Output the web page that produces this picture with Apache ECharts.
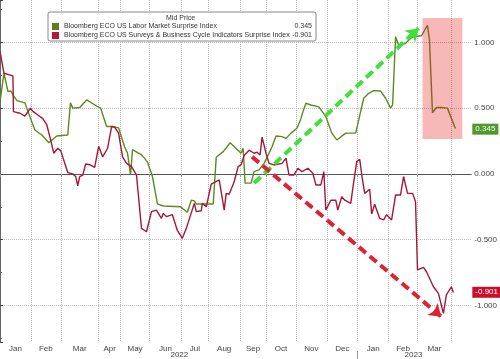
<!DOCTYPE html>
<html>
<head>
<meta charset="utf-8">
<script src="https://cdn.jsdelivr.net/npm/echarts@6/dist/echarts.min.js"></script>
<style>html,body{margin:0;padding:0;background:#fff}#c{width:500px;height:359px}</style>
</head>
<body>
<div id="c"></div>
<script>
// x unit: observation index along Bloomberg's (non-uniform) date axis
const monthStarts = [0, 31, 61, 99, 121, 150, 182, 209, 241, 267, 297, 328, 359, 390, 419, 453];
const monthNames = ['Jan','Feb','Mar','Apr','May','Jun','Jul','Aug','Sep','Oct','Nov','Dec','Jan','Feb','Mar'];
const yearNames = ['2022', '2023'];
const yearCenters = [180, 415];
const yearBreaks = [359];
const xEnd = 473;

const laborName = 'Bloomberg ECO US Labor Market Surprise Index';
const surveyName = 'Bloomberg ECO US Surveys & Business Cycle Indicators Surprise Index';
const laborLast = 0.345;
const surveyLast = -0.901;

const labor = [[0,0.55],[4,0.765],[8,0.625],[11,0.63],[13,0.6],[17,0.557],[25,0.54],[30,0.435],[35,0.334],[42,0.296],[49,0.237],[57,0.288],[68,0.296],[70.7,0.54],[73,0.5],[80,0.505],[87,0.562],[97,0.516],[101,0.5],[107,0.36],[113,0.36],[119,0.35],[125,0.207],[128,0.157],[131,-0.008],[133,0.185],[142,0.144],[145,0.12],[148,0.09],[153,-0.02],[158,-0.228],[164,-0.244],[181,-0.25],[188,-0.292],[192,-0.2],[195,-0.205],[197,-0.229],[214,-0.229],[217,0.126],[224,0.169],[231,0.237],[242,0.157],[244,0.195],[246,-0.07],[252,-0.07],[255,0.017],[260,0.03],[265,0.08],[270,0.157],[273,0.207],[277,0.288],[283,0.283],[287,0.27],[292,0.31],[298,0.347],[302,0.42],[303.5,0.46],[307,0.537],[312,0.524],[320,0.51],[327,0.435],[333,0.31],[338,0.258],[347,0.31],[357,0.31],[360,0.41],[365,0.575],[370,0.613],[375,0.633],[382,0.63],[387,0.575],[392,0.5],[394,0.524],[397,1.043],[400,0.98],[407,0.993],[412,1.03],[415,1.043],[423,1.05],[429,1.13],[431,1.02],[434,0.465],[438,0.505],[443,0.505],[449,0.5],[457,0.345]];

const surveys = [[0,0.93],[4,0.765],[13,0.745],[13.5,0.473],[20,0.461],[25,0.44],[27,0.43],[30.5,0.5],[33,0.475],[38,0.448],[43,0.42],[47,0.372],[50,0.283],[54,0.157],[58,0.195],[61,0.175],[63,0.18],[68,0.01],[73,0.0],[76,-0.02],[78,-0.09],[80,-0.02],[83,-0.01],[86,0.075],[90,0.07],[95,0.05],[99,0.21],[103,0.13],[108,0.195],[112,0.36],[115,0.355],[119,0.31],[123,0.13],[127,0.08],[132,0.055],[137,-0.01],[142,-0.414],[147,-0.44],[152,-0.287],[157,-0.275],[162,-0.338],[164,-0.3],[167,-0.325],[173,-0.31],[178,-0.43],[183,-0.49],[187,-0.414],[195,-0.224],[197,-0.287],[202,-0.28],[203,-0.224],[207,-0.25],[212,-0.077],[220,-0.046],[225,-0.275],[227,-0.148],[230,-0.155],[235,-0.06],[239,0.055],[242,0.07],[245,0.14],[250,0.18],[255,0.157],[258,0.165],[261,0.144],[263,0.28],[267,0.157],[270,0.08],[275,0.068],[283,0.08],[287,0.119],[290,-0.008],[295,-0.008],[299,0.043],[303,0.017],[309,0.043],[314,0.005],[317,-0.084],[322,-0.084],[325,0.017],[327,-0.275],[332,-0.2],[337,-0.2],[339,-0.275],[343,-0.173],[346,-0.2],[352,-0.224],[355,-0.06],[358,0.093],[361,0.11],[363.3,-0.02],[366,-0.148],[371,-0.117],[373,-0.305],[376,-0.23],[378,-0.235],[381,-0.338],[385,-0.35],[388,-0.31],[393,-0.35],[397,-0.16],[402,-0.16],[405,-0.02],[409,-0.148],[414,-0.148],[417,-0.21],[419,-0.73],[425,-0.71],[428,-0.744],[435,-0.858],[440,-0.908],[445,-1.06],[448,-0.92],[453,-0.858],[455,-0.901]];

// annotations
const upArrow = [[255,-0.07],[420,1.107]];
const downArrow = [[253,0.13],[443,-1.086]];
const highlightX = [424, 464];
const highlightY = [0.265, 1.186];

const monthMids = monthStarts.slice(0, -1).map((s, i) => (s + monthStarts[i + 1]) / 2);

const FONT = '"Liberation Sans", Arial, sans-serif';
const GREEN = '#5b8a1f', RED = '#a3183a';

const chart = echarts.init(document.getElementById('c'), null, {renderer: 'canvas'});
chart.setOption({
  animation: false,
  textStyle: {fontFamily: FONT},
  grid: {left: 0, right: 27, top: 0, bottom: 17},
  title: {text: 'Mid Price', left: 166, top: 15, padding: 0,
    textStyle: {fontSize: 7, fontWeight: 'normal', color: '#333', fontFamily: FONT}},
  legend: {
    data: [laborName, surveyName], orient: 'vertical', left: 48, top: 12,
    padding: [11, 4, 2, 4], itemWidth: 7, itemHeight: 7, itemGap: 2, icon: 'rect',
    backgroundColor: '#fff', borderColor: '#888', borderWidth: 1, borderRadius: 2,
    formatter: n => '{n|' + n + '}{v|' + (n === laborName ? laborLast.toFixed(3) : surveyLast.toFixed(3)) + '}',
    textStyle: {fontSize: 7, color: '#333', fontFamily: FONT,
      rich: {n: {width: 222, fontSize: 7, fontFamily: FONT, color: '#333'}, v: {width: 26, align: 'right', fontSize: 7, fontFamily: FONT, color: '#333'}}}
  },
  xAxis: [{
    type: 'value', min: 0, max: xEnd,
    axisLine: {show: true, lineStyle: {color: '#555'}},
    axisTick: {show: true, customValues: monthStarts, length: 3, lineStyle: {color: '#999'}},
    axisLabel: {customValues: monthMids, formatter: v => monthNames[monthMids.indexOf(v)],
      fontSize: 8, color: '#444', margin: 3, fontFamily: FONT},
    splitLine: {show: true, lineStyle: {type: 'dotted', color: '#bbb'}}
  }, {
    type: 'value', min: 0, max: xEnd, position: 'bottom', offset: 9,
    axisLine: {show: false},
    axisTick: {show: true, customValues: yearBreaks, length: 8, lineStyle: {color: '#999'}},
    axisLabel: {customValues: yearCenters, formatter: v => yearNames[yearCenters.indexOf(v)],
      fontSize: 8, color: '#444', margin: 0, fontFamily: FONT},
    splitLine: {show: false}
  }],
  yAxis: {
    type: 'value', position: 'right', min: -1.278, max: 1.322, splitNumber: 5,
    axisLine: {show: true, lineStyle: {color: '#666'}},
    axisTick: {show: true, length: 3, lineStyle: {color: '#444'}},
    minorTick: {show: true, splitNumber: 2, length: 2, lineStyle: {color: '#666'}},
    axisLabel: {showMinLabel: false, showMaxLabel: false, formatter: v => v.toFixed(3),
      fontSize: 8, color: '#444', margin: 3, fontFamily: FONT},
    splitLine: {show: true, showMinLine: false, showMaxLine: false, lineStyle: {type: 'dotted', color: '#bbb'}}
  },
  series: [{
    name: laborName, type: 'line', data: labor, showSymbol: false, symbol: 'none',
    lineStyle: {color: GREEN, width: 1.4}, itemStyle: {color: '#5d7f1b'}, z: 2,
    markLine: {silent: true, symbol: 'none', lineStyle: {width: 0, color: 'rgba(0,0,0,0)'},
      data: [{yAxis: laborLast}],
      label: {show: true, position: 'end', distance: 1, formatter: laborLast.toFixed(3), color: '#fff',
        backgroundColor: '#4f9a2a', padding: [2, 3, 1, 3], fontSize: 8, fontFamily: FONT}}
  }, {
    name: surveyName, type: 'line', data: surveys, showSymbol: false, symbol: 'none',
    lineStyle: {color: RED, width: 1.4}, itemStyle: {color: '#b7163a'}, z: 2,
    markLine: {silent: true, symbol: 'none', lineStyle: {width: 0, color: 'rgba(0,0,0,0)'},
      data: [{yAxis: surveyLast}],
      label: {show: true, position: 'end', distance: 1, formatter: surveyLast.toFixed(3), color: '#fff',
        backgroundColor: '#c8102e', padding: [2, 3, 1, 3], fontSize: 8, fontFamily: FONT}}
  }, {
    name: 'annotations', type: 'line', data: [], z: 3,
    markArea: {silent: true, z: 3, itemStyle: {color: 'rgba(230,20,20,0.3)'},
      data: [[{coord: [highlightX[0], highlightY[1]]}, {coord: [highlightX[1], highlightY[0]]}]]},
    markLine: {silent: true, symbol: ['none', 'arrow'], symbolSize: 12, label: {show: false},
      data: [
        [{coord: upArrow[0], lineStyle: {color: '#3ee03a', width: 4, type: [9, 5]}, itemStyle: {color: '#3ee03a'}},
         {coord: upArrow[1], itemStyle: {color: '#3ee03a'}}],
        [{coord: downArrow[0], lineStyle: {color: '#dd2233', width: 4, type: [9, 5]}, itemStyle: {color: '#dd2233'}},
         {coord: downArrow[1], itemStyle: {color: '#dd2233'}}]
      ]}
  }]
});
</script>
</body>
</html>
